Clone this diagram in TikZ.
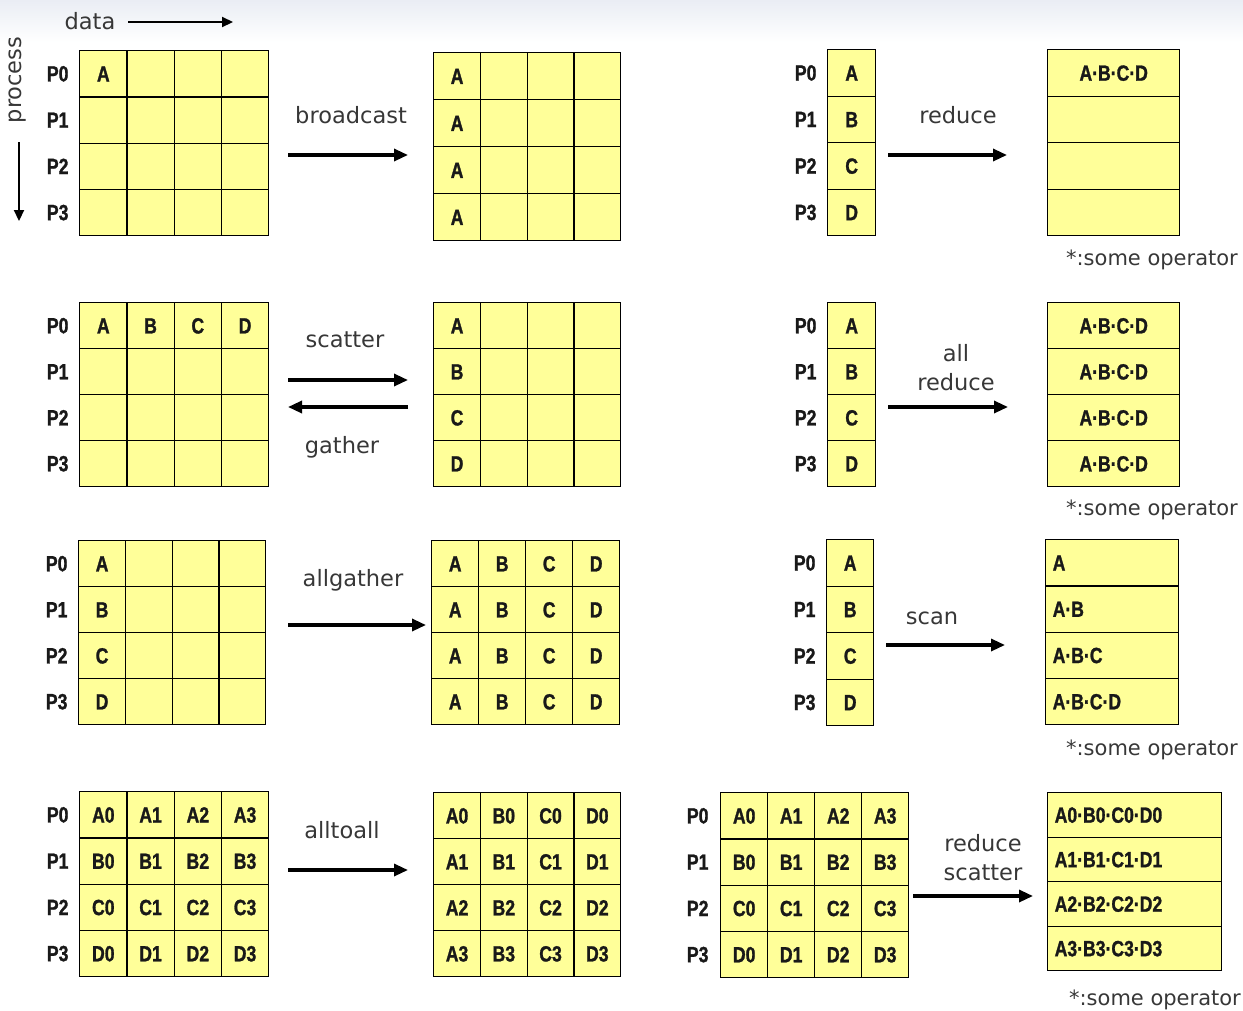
\documentclass[tikz,border=0pt]{standalone}
\usepackage{fontspec}
\setmainfont{DejaVu Sans}
\newfontfamily\cellfam[FakeStretch=0.8,FakeBold=1.2]{Liberation Sans}
\usetikzlibrary{matrix,arrows.meta}
\definecolor{cellyellow}{RGB}{255,255,153}
\definecolor{labgray}{RGB}{55,55,55}
\definecolor{topshade}{RGB}{234,237,244}
\newcommand\cellfont{\cellfam\bfseries\fontsize{22}{22}\selectfont}
\newcommand\labfont{\fontsize{22.5}{29}\selectfont}
\newcommand\notefont{\fontsize{21}{21}\selectfont}
\tikzset{
  cell/.style={draw=black, line width=1.4pt, fill=cellyellow, inner sep=0pt, outer sep=0pt,
    anchor=center, text height=15.5pt, text depth=0pt, font=\cellfont, text=black!90},
  gridm/.style 2 args={matrix of nodes, nodes in empty cells, inner sep=0pt, outer sep=0pt,
    column sep=-1.4pt, row sep=-1.4pt, anchor=north west, nodes={cell, minimum width=#1, minimum height=#2}},
  leftcells/.style={nodes={text width=#1, align=left, inner xsep=7pt}},
  plabel/.style={font=\cellfont, text=black!90, inner sep=0pt},
  oplabel/.style={font=\labfont, text=labgray, inner sep=0pt, align=center},
  note/.style={font=\notefont, text=labgray, inner sep=0pt},
  conn/.style={line width=3.2pt, -{Triangle[length=14pt,width=12pt]}},
  axisarrow/.style={line width=2.2pt, -{Triangle[length=11pt,width=10pt]}},
}
\newcommand\plabels[2]{\foreach \i [count=\k from 0] in {1,2,3,4} {\node[plabel] (#1-p\i) at ([xshift=-#2pt]#1-\i-1.west) {P\k};}}
\begin{document}
\begin{tikzpicture}[x=1pt,y=-1pt]
\useasboundingbox (0,0) rectangle (1243,1010);
\shade[top color=topshade, bottom color=white] (0,0) rectangle (1243,42);

% axes
\node[oplabel] (datalab) at (90,21) {data};
\coordinate (data-s) at (128,22);
\coordinate (data-e) at (233,22);
\draw[axisarrow] (data-s) -- (data-e);
\node[oplabel, rotate=90] (proclab) at (18,80) {process};
\coordinate (proc-s) at (19,142);
\coordinate (proc-e) at (19,221);
\draw[axisarrow] (proc-s) -- (proc-e);

% ---------------- row 1: broadcast / reduce
\matrix (bsrc) [gridm={47.25}{46.25}] at (79,50) {
A & & & \\
 & & & \\
 & & & \\
 & & & \\
};
\plabels{bsrc}{22}
\matrix (bdst) [gridm={46.75}{47}] at (433,52) {
A & & & \\
A & & & \\
A & & & \\
A & & & \\
};
\coordinate (bc-s) at (288,155);
\coordinate (bc-e) at (408,155);
\draw[conn] (bc-s) -- (bc-e);
\node[oplabel] (bclab) at (351,115) {broadcast};

\matrix (rsrc) [gridm={48}{46.5}] at (827,49) {
A \\ B \\ C \\ D \\
};
\plabels{rsrc}{22}
\matrix (rdst) [gridm={132}{46.5}] at (1047,49) {
A·B·C·D \\ \\ \\ \\
};
\coordinate (rd-s) at (888,155);
\coordinate (rd-e) at (1007,155);
\draw[conn] (rd-s) -- (rd-e);
\node[oplabel] (rdlab) at (958,115) {reduce};
\node[note] (op1) at (1152,260) {*:some operator};

% ---------------- row 2: scatter / gather / allreduce
\matrix (ssrc) [gridm={47.25}{46}] at (79,302) {
A & B & C & D \\
 & & & \\
 & & & \\
 & & & \\
};
\plabels{ssrc}{22}
\matrix (sdst) [gridm={46.75}{46}] at (433,302) {
A & & & \\
B & & & \\
C & & & \\
D & & & \\
};
\coordinate (sc-s) at (288,380);
\coordinate (sc-e) at (408,380);
\draw[conn] (sc-s) -- (sc-e);
\coordinate (ga-s) at (408,407);
\coordinate (ga-e) at (288,407);
\draw[conn] (ga-s) -- (ga-e);
\node[oplabel] (sclab) at (345,340) {scatter};
\node[oplabel] (galab) at (342,447) {gather};

\matrix (arsrc) [gridm={48}{46}] at (827,302) {
A \\ B \\ C \\ D \\
};
\plabels{arsrc}{22}
\matrix (ardst) [gridm={132}{46}] at (1047,302) {
A·B·C·D \\ A·B·C·D \\ A·B·C·D \\ A·B·C·D \\
};
\coordinate (ar-s) at (888,407);
\coordinate (ar-e) at (1008,407);
\draw[conn] (ar-s) -- (ar-e);
\node[oplabel] (arlab) at (956,368) {all\\reduce};
\node[note] (op2) at (1152,510) {*:some operator};

% ---------------- row 3: allgather / scan
\matrix (agsrc) [gridm={46.75}{46}] at (78,540) {
A & & & \\
B & & & \\
C & & & \\
D & & & \\
};
\plabels{agsrc}{22}
\matrix (agdst) [gridm={47}{46}] at (431,540) {
A & B & C & D \\
A & B & C & D \\
A & B & C & D \\
A & B & C & D \\
};
\coordinate (ag-s) at (288,625);
\coordinate (ag-e) at (426,625);
\draw[conn] (ag-s) -- (ag-e);
\node[oplabel] (aglab) at (353,580) {allgather};

\matrix (scsrc) [gridm={47}{46.5}] at (826,539) {
A \\ B \\ C \\ D \\
};
\plabels{scsrc}{22}
\matrix (scdst) [gridm={133}{46.25}, leftcells=119] at (1045,539) {
A \\ A·B \\ A·B·C \\ A·B·C·D \\
};
\coordinate (sn-s) at (886,645);
\coordinate (sn-e) at (1005,645);
\draw[conn] (sn-s) -- (sn-e);
\node[oplabel] (snlab) at (932,618) {scan};
\node[note] (op3) at (1152,750) {*:some operator};

% ---------------- row 4: alltoall / reduce scatter
\matrix (aasrc) [gridm={47.25}{46.25}] at (79,791) {
A0 & A1 & A2 & A3 \\
B0 & B1 & B2 & B3 \\
C0 & C1 & C2 & C3 \\
D0 & D1 & D2 & D3 \\
};
\plabels{aasrc}{22}
\matrix (aadst) [gridm={46.75}{46}] at (433,792) {
A0 & B0 & C0 & D0 \\
A1 & B1 & C1 & D1 \\
A2 & B2 & C2 & D2 \\
A3 & B3 & C3 & D3 \\
};
\coordinate (aa-s) at (288,870);
\coordinate (aa-e) at (408,870);
\draw[conn] (aa-s) -- (aa-e);
\node[oplabel] (aalab) at (342,830) {alltoall};

\matrix (rssrc) [gridm={47}{46.25}] at (720,792) {
A0 & A1 & A2 & A3 \\
B0 & B1 & B2 & B3 \\
C0 & C1 & C2 & C3 \\
D0 & D1 & D2 & D3 \\
};
\plabels{rssrc}{23}
\matrix (rsdst) [gridm={174}{44.5}, leftcells=160] at (1047,792) {
A0·B0·C0·D0 \\ A1·B1·C1·D1 \\ A2·B2·C2·D2 \\ A3·B3·C3·D3 \\
};
\coordinate (rs-s) at (913,896);
\coordinate (rs-e) at (1033,896);
\draw[conn] (rs-s) -- (rs-e);
\node[oplabel] (rslab) at (983,858) {reduce\\scatter};
\node[note] (op4) at (1155,1000) {*:some operator};
\end{tikzpicture}
\end{document}
